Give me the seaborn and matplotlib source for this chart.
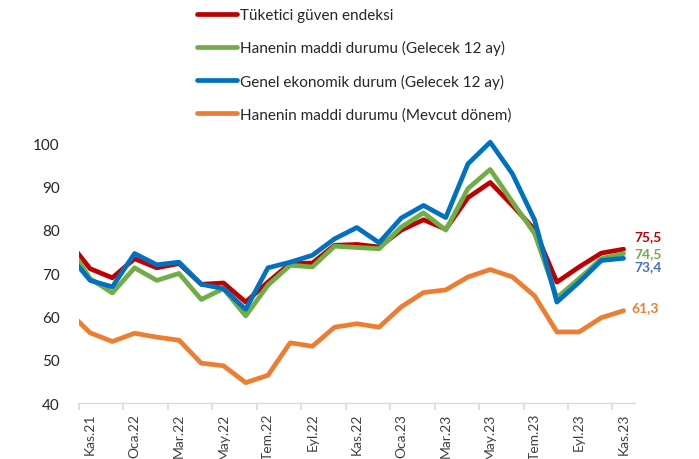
import numpy as np
import pandas as pd
import matplotlib
matplotlib.use("Agg")
import matplotlib.pyplot as plt
import seaborn as sns

# %% data (monthly, Eki.21 is only partly visible at the left edge)
months = ["Eki.21", "Kas.21", "Ara.21", "Oca.22", "Şub.22", "Mar.22", "Nis.22", "May.22",
          "Haz.22", "Tem.22", "Ağu.22", "Eyl.22", "Eki.22", "Kas.22", "Ara.22", "Oca.23",
          "Şub.23", "Mar.23", "Nis.23", "May.23", "Haz.23", "Tem.23", "Ağu.23", "Eyl.23",
          "Eki.23", "Kas.23"]

guven = [77.5, 71.0, 68.9, 73.3, 71.2, 72.2, 67.4, 67.7, 63.3, 67.9, 72.2, 72.3, 76.4,
         76.6, 76.0, 79.9, 82.3, 80.1, 87.4, 90.9, 85.6, 80.0, 67.9, 71.4, 74.6, 75.5]
hane_gelecek = [76.7, 68.7, 65.4, 71.2, 68.3, 69.9, 63.9, 66.4, 60.1, 67.2, 71.8, 71.4, 76.2,
                75.9, 75.6, 80.6, 83.9, 79.9, 89.5, 93.9, 86.4, 79.1, 64.3, 68.7, 73.3, 74.5]
genel_gelecek = [74.5, 68.3, 66.8, 74.5, 71.9, 72.5, 67.4, 66.4, 61.6, 71.2, 72.5, 74.1, 77.9,
                 80.5, 77.0, 82.7, 85.6, 82.8, 95.2, 100.2, 92.9, 82.2, 63.3, 67.9, 72.9, 73.4]
hane_mevcut = [61.2, 56.2, 54.2, 56.1, 55.2, 54.5, 49.2, 48.6, 44.7, 46.4, 53.9, 53.1, 57.5,
               58.3, 57.5, 62.2, 65.5, 66.1, 69.1, 70.8, 69.1, 64.7, 56.4, 56.4, 59.7, 61.3]

series_names = ["Tüketici güven endeksi",
                "Hanenin maddi durumu (Gelecek 12 ay)",
                "Genel ekonomik durum (Gelecek 12 ay)",
                "Hanenin maddi durumu (Mevcut dönem)"]
colors = ["#C00000", "#70AD47", "#0070C0", "#ED7D31"]
label_colors = ["#C00000", "#70AD47", "#4472C4", "#ED7D31"]
end_labels = ["75,5", "74,5", "73,4", "61,3"]
label_offsets = [(11, 13), (11, 0), (11, -8), (8, 4)]   # pixels

x = np.arange(-1, len(months) - 1)
df = pd.DataFrame({"x": x, series_names[0]: guven, series_names[1]: hane_gelecek,
                   series_names[2]: genel_gelecek, series_names[3]: hane_mevcut})
long = df.melt(id_vars="x", var_name="seri", value_name="deger")

# %% plot
sns.set_theme(style="white")
plt.rcParams["font.family"] = ["Lato", "DejaVu Sans"]

fig = plt.figure(figsize=(6.99, 4.60), dpi=100)
ax = fig.add_axes([0.113, 0.1217, 0.795, 0.5746])

sns.lineplot(data=long, x="x", y="deger", hue="seri", hue_order=series_names,
             palette=colors, linewidth=3.4, ax=ax)

ax.set_xlim(-0.5, 24.5)
ax.set_ylim(40, 101)
ax.set_yticks(range(40, 101, 10))
ax.set_xlabel("")
ax.set_ylabel("")

# category boundaries as tick marks, labels on every second month
ax.set_xticks(np.arange(-0.5, 24, 2))
ax.set_xticklabels([])
ax.set_xticks(np.arange(0, 25, 2), minor=True)
ax.set_xticklabels(months[1::2], minor=True, rotation=90, fontsize=10, color="#404040")
ax.tick_params(axis="x", which="major", length=5, color="#D9D9D9", bottom=True)
ax.tick_params(axis="x", which="minor", length=0, pad=7)
ax.tick_params(axis="y", length=0, pad=14, labelsize=11, labelcolor="#262626")

for s in ["top", "right", "left"]:
    ax.spines[s].set_visible(False)
ax.spines["bottom"].set_color("#D9D9D9")
ax.spines["bottom"].set_linewidth(1)

for vals, c, lab, off in zip([guven, hane_gelecek, genel_gelecek, hane_mevcut],
                             label_colors, end_labels, label_offsets):
    ax.annotate(lab, xy=(24, vals[-1]), xytext=off, textcoords="offset pixels",
                color=c, fontsize=10, fontweight="bold", va="center", ha="left",
                annotation_clip=False)

handles, labels = ax.get_legend_handles_labels()
ax.legend(handles, labels, loc="upper left", bbox_to_anchor=(197 / 699, 1 - 9 / 460),
          bbox_transform=fig.transFigure, frameon=False, fontsize=11,
          handlelength=2.6, handletextpad=0.2, labelspacing=1.2,
          borderpad=0, borderaxespad=0, labelcolor="#262626")

fig.savefig("out.png", dpi=100)
